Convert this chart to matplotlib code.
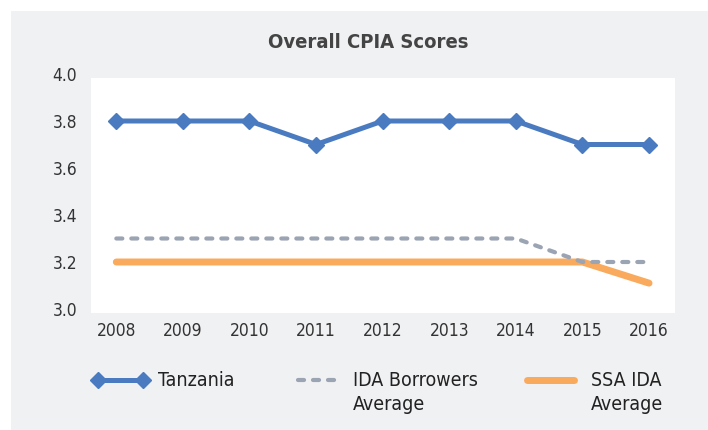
import matplotlib
matplotlib.use("Agg")
import matplotlib.pyplot as plt
from matplotlib.patches import Rectangle
from matplotlib.lines import Line2D

years = [2008, 2009, 2010, 2011, 2012, 2013, 2014, 2015, 2016]
tanzania = [3.8, 3.8, 3.8, 3.7, 3.8, 3.8, 3.8, 3.7, 3.7]
ida_borrowers = [3.3, 3.3, 3.3, 3.3, 3.3, 3.3, 3.3, 3.2, 3.2]
ssa_ida = [3.2, 3.2, 3.2, 3.2, 3.2, 3.2, 3.2, 3.2, 3.11]
series_labels = ["Tanzania", "IDA Borrowers\nAverage", "SSA IDA\nAverage"]
title = "Overall CPIA Scores"
yticks = [3.0, 3.2, 3.4, 3.6, 3.8, 4.0]

plt.rcParams["font.family"] = ["DejaVu Sans"]
plt.rcParams["font.stretch"] = "condensed"

W, H = 708, 430
def fx(px): return px / W
def fy(py): return 1 - py / H

txt = "#333333"
c_tz, c_ida, c_ssa = "#4a7bc1", "#9ba4b2", "#f9aa5c"
styles = {
    "tz": dict(color=c_tz, lw=3.6, marker="D", markersize=8),
    "ida": dict(color=c_ida, lw=3.0, ls=(0, (1.45, 2.15)), dash_capstyle="round"),
    "ssa": dict(color=c_ssa, lw=5.0, solid_capstyle="round"),
}

fig = plt.figure(figsize=(W / 100, H / 100), dpi=100)
fig.patches.append(Rectangle((fx(11), 0), 1, fy(11), transform=fig.transFigure,
                             facecolor="#f0f1f3", edgecolor="none", zorder=-5))
fig.patches.append(Rectangle((fx(91), fy(313)), fx(675) - fx(91), fy(78) - fy(313),
                             transform=fig.transFigure, facecolor="white",
                             edgecolor="none", zorder=-4))
ax = fig.add_axes([fx(91), fy(309), fx(675) - fx(91), fy(74) - fy(309)])
ax.patch.set_visible(False)

ax.plot(years, ssa_ida, zorder=2, **styles["ssa"])
ax.plot(years, ida_borrowers, zorder=3, **styles["ida"])
ax.plot(years, tanzania, zorder=4, **styles["tz"])

ax.set_xlim(years[0] - 0.38, years[-1] + 0.39)
ax.set_ylim(3.0, 4.0)
ax.set_yticks(yticks)
ax.set_yticklabels([f"{v:.1f}" for v in yticks])
ax.set_xticks(years)
for s in ax.spines.values():
    s.set_visible(False)
ax.tick_params(length=0, labelsize=12.5, colors=txt)
ax.tick_params(axis="x", pad=9)
ax.tick_params(axis="y", pad=10)

fig.text(fx(368), fy(43), title, ha="center", va="center", fontsize=14.5,
         fontweight="bold", color="#444444")

# legend
leg_y = 380
entries = [("tz", 98, 143, 158, series_labels[0]),
           ("ida", 298, 340, 353, series_labels[1]),
           ("ssa", 527, 574, 591, series_labels[2])]
for key, x0, x1, xt, lab in entries:
    st = dict(styles[key])
    if key == "tz":
        st["markevery"] = [0, 1]
    fig.add_artist(Line2D([fx(x0), fx(x1)], [fy(leg_y), fy(leg_y)],
                          transform=fig.transFigure, **st))
    fig.text(fx(xt), fy(leg_y - 9), lab, ha="left", va="top", fontsize=14,
             color="#222222", linespacing=1.3)

fig.savefig("out.png", dpi=100)
